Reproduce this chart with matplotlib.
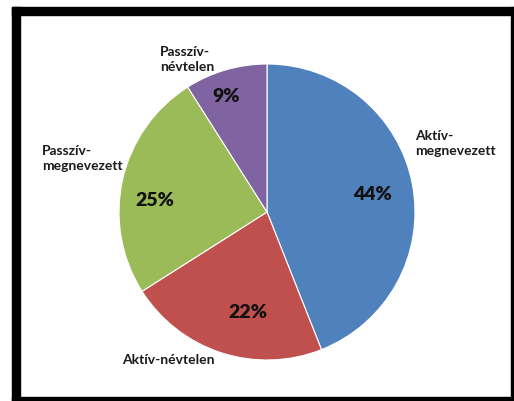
import matplotlib
matplotlib.use("Agg")
import matplotlib.pyplot as plt
from matplotlib.patches import Rectangle

# chart data
categories = ["Aktív-megnevezett", "Aktív-névtelen", "Passzív-megnevezett", "Passzív-névtelen"]
label_texts = ["Aktív-\nmegnevezett", "Aktív-névtelen", "Passzív-\nmegnevezett", "Passzív-\nnévtelen"]
shares = [44, 22, 25, 9]
colors = ["#4F81BD", "#C0504D", "#9BBB59", "#8064A2"]

W, H = 514, 401
plt.rcParams["font.family"] = ["Lato", "DejaVu Sans"]

fig = plt.figure(figsize=(W / 100, H / 100), dpi=100)
fig.patch.set_facecolor("white")


def fx(px):
    return px / W


def fy(py):
    return 1 - py / H


# pie area: centre (267, 212) px, radius 148 px
cx, cy, r = 267, 212, 148
ax = fig.add_axes([fx(cx - r), fy(cy + r), 2 * r / W, 2 * r / H])
wedges, _ = ax.pie(shares, colors=colors, startangle=90, counterclock=False,
                   wedgeprops=dict(edgecolor="white", linewidth=0.8))
ax.set_xlim(-1, 1)
ax.set_ylim(-1, 1)
ax.set_aspect("equal")
ax.axis("off")

# category labels (top-left pixel of each text block)
label_pos = [(415, 130), (122, 354), (42, 145), (160, 46)]
for txt, (px, py) in zip(label_texts, label_pos):
    fig.text(fx(px), fy(py), txt, ha="left", va="top", fontsize=10,
             fontweight="bold", color="#1a1a1a", linespacing=1.3)

# percentage labels (centre pixel)
pct_pos = [(372, 195), (248, 312), (155, 201), (226, 97)]
for val, (px, py) in zip(shares, pct_pos):
    fig.text(fx(px), fy(py), f"{val}%", ha="center", va="center", fontsize=14,
             fontweight="heavy", color="#111111")

# black frame around the chart
frame = [(12, 7, 502, 8), (12, 7, 8, 394), (12, 397, 502, 4), (511, 7, 2, 394)]
for x0, y0, w, h in frame:
    fig.patches.append(Rectangle((fx(x0), fy(y0 + h)), w / W, h / H,
                                 transform=fig.transFigure, color="black"))

fig.savefig("out.png", dpi=100)
